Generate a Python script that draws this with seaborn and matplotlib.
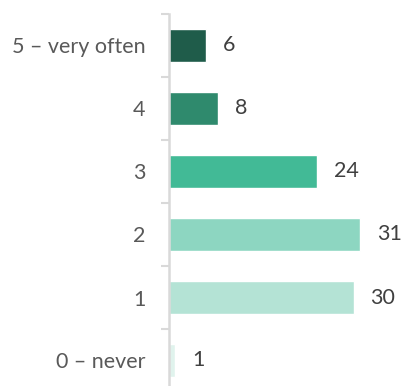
import matplotlib
matplotlib.use("Agg")
import matplotlib.pyplot as plt
import seaborn as sns
import pandas as pd
import numpy as np

# data
categories = ["5 – very often", "4", "3", "2", "1", "0 – never"]
counts = [6, 8, 24, 31, 30, 1]
colors = ["#1f5c4a", "#2f8a6d", "#42ba96", "#8dd6c1", "#b4e3d5", "#e0f3ed"]

df = pd.DataFrame({"answer": categories, "n": counts})

sns.set_style("white")
plt.rcParams["font.family"] = ["Lato", "DejaVu Sans"]

fig = plt.figure(figsize=(4.05, 3.86), dpi=100)
ax = fig.add_axes([169 / 405, -6 / 386, 1 - 169 / 405, 378 / 386])

sns.barplot(data=df, x="n", y="answer", hue="answer", palette=colors,
            order=categories, hue_order=categories, orient="h",
            width=0.51, legend=False, ax=ax, saturation=1)

for c in ax.containers:
    ax.bar_label(c, padding=12, fontsize=15.5, color="#404040")

ax.set_xlim(0, (405 - 169) / 6.16)
ax.set_ylim(5.5, -0.5)
ax.set_xlabel("")
ax.set_ylabel("")
ax.set_xticks([])

ax.set_yticks(range(len(categories)))
ax.set_yticklabels(categories, fontsize=15.5, color="#595959")
ax.set_yticks(np.arange(-0.5, len(categories), 1), minor=True)
ax.tick_params(axis="y", which="major", left=False, length=0, pad=17)
ax.tick_params(axis="y", which="minor", left=True, direction="out",
               length=6, width=1.5, color="#d9d9d9")

for s in ["top", "right", "bottom"]:
    ax.spines[s].set_visible(False)
ax.spines["left"].set_color("#d9d9d9")
ax.spines["left"].set_linewidth(1.8)

fig.savefig("out.png", dpi=100)
